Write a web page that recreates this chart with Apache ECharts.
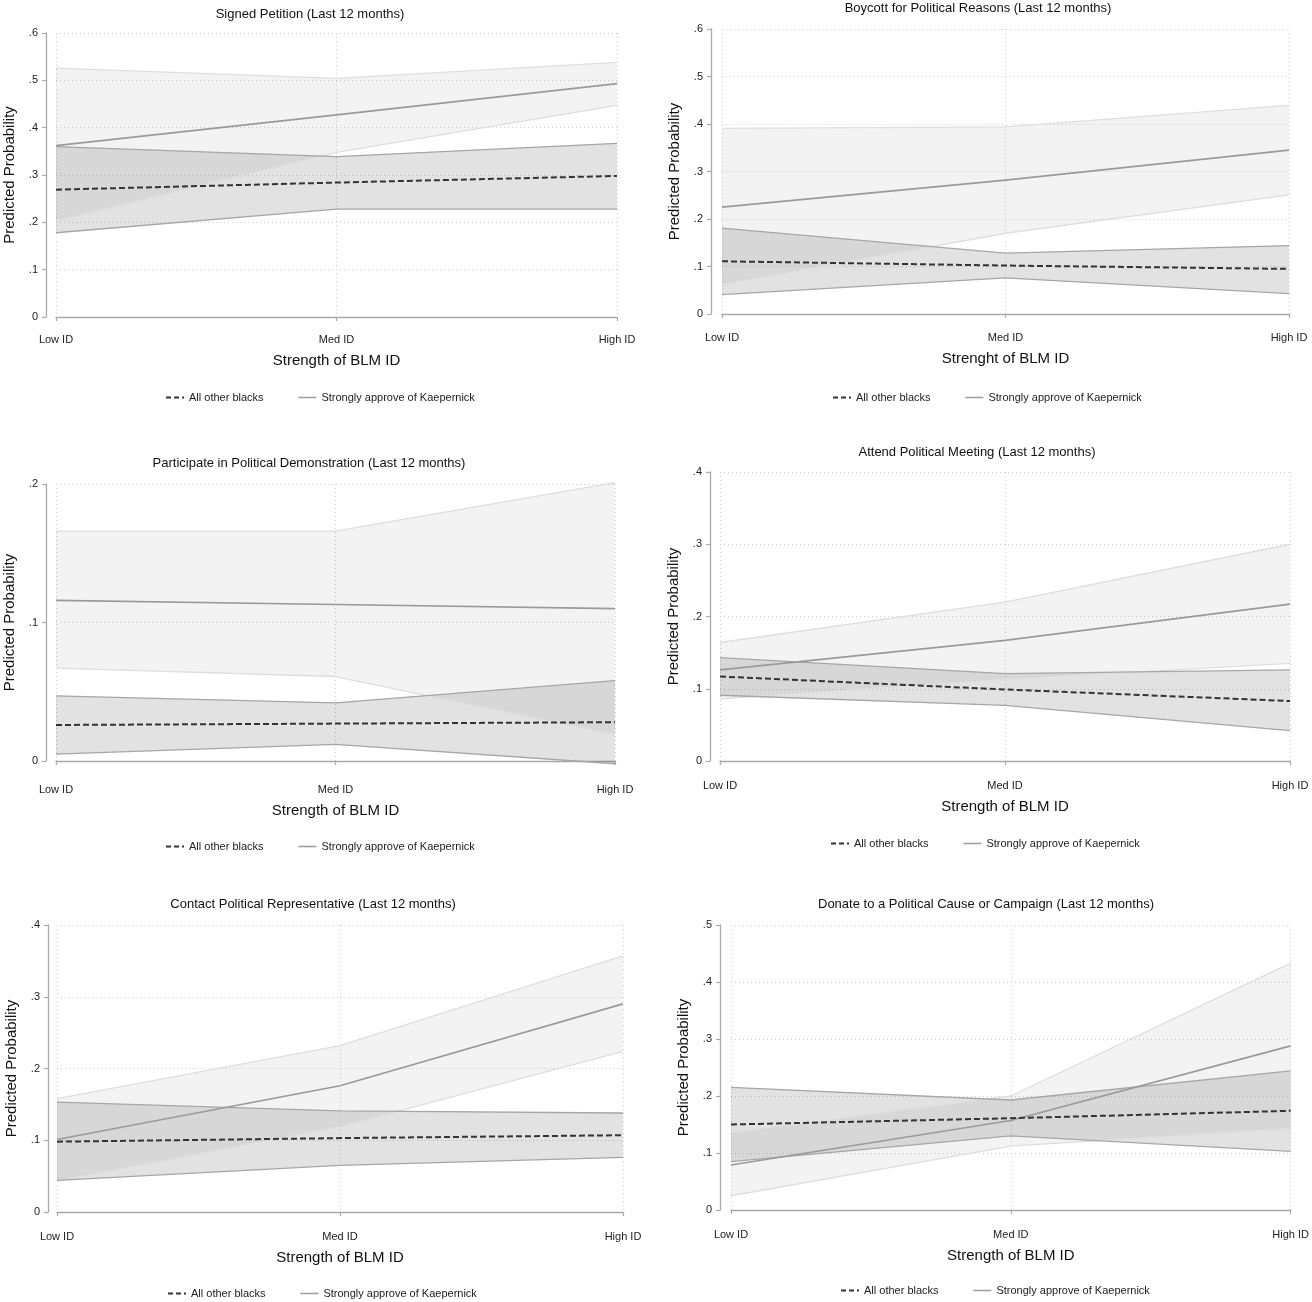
<!DOCTYPE html>
<html>
<head>
<meta charset="utf-8">
<script src="https://cdn.jsdelivr.net/npm/echarts@6/dist/echarts.min.js"></script>
<style>
html,body{margin:0;padding:0;background:#fff;}
#chart{width:1312px;height:1302px;}
</style>
</head>
<body>
<div id="chart"></div>
<script>
// ---------- DATA ----------
const categories = ['Low ID', 'Med ID', 'High ID'];
const legendNames = ['All other blacks', 'Strongly approve of Kaepernick'];
const panelTitles = [
  'Signed Petition (Last 12 months)',
  'Boycott for Political Reasons (Last 12 months)',
  'Participate in Political Demonstration (Last 12 months)',
  'Attend Political Meeting (Last 12 months)',
  'Contact Political Representative (Last 12 months)',
  'Donate to a Political Cause or Campaign (Last 12 months)'
];
const xTitles = ['Strength of BLM ID', 'Strenght of BLM ID', 'Strength of BLM ID',
                 'Strength of BLM ID', 'Strength of BLM ID', 'Strength of BLM ID'];
const yTitle = 'Predicted Probability';
const yMax = [0.6, 0.6, 0.2, 0.4, 0.4, 0.5];

// Signed Petition
const petitionKaep     = [0.362, 0.427, 0.493];
const petitionKaepLo   = [0.203, 0.348, 0.447];
const petitionKaepHi   = [0.526, 0.504, 0.538];
const petitionOther    = [0.269, 0.284, 0.298];
const petitionOtherLo  = [0.178, 0.228, 0.228];
const petitionOtherHi  = [0.360, 0.339, 0.367];
// Boycott
const boycottKaep      = [0.225, 0.282, 0.345];
const boycottKaepLo    = [0.062, 0.170, 0.251];
const boycottKaepHi    = [0.391, 0.394, 0.439];
const boycottOther     = [0.111, 0.102, 0.095];
const boycottOtherLo   = [0.041, 0.076, 0.043];
const boycottOtherHi   = [0.181, 0.128, 0.144];
// Demonstration
const demoKaep         = [0.116, 0.113, 0.110];
const demoKaepLo       = [0.067, 0.061, 0.019];
const demoKaepHi       = [0.166, 0.166, 0.201];
const demoOther        = [0.026, 0.027, 0.028];
const demoOtherLo      = [0.005, 0.012, -0.002];
const demoOtherHi      = [0.047, 0.042, 0.058];
// Meeting
const meetingKaep      = [0.126, 0.167, 0.217];
const meetingKaepLo    = [0.086, 0.113, 0.135];
const meetingKaepHi    = [0.164, 0.220, 0.300];
const meetingOther     = [0.117, 0.099, 0.083];
const meetingOtherLo   = [0.091, 0.077, 0.042];
const meetingOtherHi   = [0.143, 0.121, 0.126];
// Contact representative
const contactKaep      = [0.101, 0.176, 0.290];
const contactKaepLo    = [0.043, 0.119, 0.224];
const contactKaepHi    = [0.158, 0.232, 0.357];
const contactOther     = [0.098, 0.103, 0.107];
const contactOtherLo   = [0.044, 0.065, 0.076];
const contactOtherHi   = [0.153, 0.141, 0.138];
// Donate
const donateKaep       = [0.079, 0.157, 0.288];
const donateKaepLo     = [0.025, 0.112, 0.143];
const donateKaepHi     = [0.136, 0.200, 0.433];
const donateOther      = [0.150, 0.161, 0.174];
const donateOtherLo    = [0.085, 0.130, 0.103];
const donateOtherHi    = [0.215, 0.193, 0.244];

const panelData = [
  [petitionKaep, petitionKaepLo, petitionKaepHi, petitionOther, petitionOtherLo, petitionOtherHi],
  [boycottKaep, boycottKaepLo, boycottKaepHi, boycottOther, boycottOtherLo, boycottOtherHi],
  [demoKaep, demoKaepLo, demoKaepHi, demoOther, demoOtherLo, demoOtherHi],
  [meetingKaep, meetingKaepLo, meetingKaepHi, meetingOther, meetingOtherLo, meetingOtherHi],
  [contactKaep, contactKaepLo, contactKaepHi, contactOther, contactOtherLo, contactOtherHi],
  [donateKaep, donateKaepLo, donateKaepHi, donateOther, donateOtherLo, donateOtherHi]
];

// ---------- LAYOUT ----------
const layout = [
  {left: 56,  top: 33,  width: 561, height: 284, yOff: 10, xOff: 8,  titleX: 310, titleY: 8,   legX: 165, legY: 392},
  {left: 722, top: 29,  width: 567, height: 285, yOff: 11, xOff: 9,  titleX: 978, titleY: 2,   legX: 832, legY: 392},
  {left: 56,  top: 484, width: 559, height: 277, yOff: 10, xOff: 14, titleX: 309, titleY: 457, legX: 165, legY: 841},
  {left: 720, top: 472, width: 570, height: 289, yOff: 10, xOff: 10, titleX: 977, titleY: 446, legX: 830, legY: 838},
  {left: 57,  top: 925, width: 566, height: 287, yOff: 9,  xOff: 10, titleX: 313, titleY: 898, legX: 167, legY: 1288},
  {left: 731, top: 925, width: 564, height: 285, yOff: 11, xOff: 10, titleX: 986, titleY: 898, legX: 840, legY: 1285}
];

const FONT = '"Liberation Sans", Arial, Helvetica, sans-serif';
const axisColor = '#a9a9a9';
const gridLineStyle = {type: [1, 3], color: '#cfcfcf', width: 1};

const grids = [], xAxes = [], yAxes = [], series = [], titles = [], legends = [];

function fmtY(v) {
  if (Math.abs(v) < 1e-9) return '0';
  return v.toFixed(1).replace(/^0/, '');
}

const legendItems = [
  {name: legendNames[0], itemStyle: {opacity: 0}, lineStyle: {color: '#333', width: 2, type: [5, 3]}},
  {name: legendNames[1], itemStyle: {opacity: 0}, lineStyle: {color: '#a0a0a0', width: 1.6, type: 'solid'}}
];

layout.forEach((L, i) => {
  const [kM, kLo, kHi, oM, oLo, oHi] = panelData[i];
  grids.push({left: L.left, top: L.top, width: L.width, height: L.height, containLabel: false});
  xAxes.push({
    gridIndex: i, type: 'category', data: categories, boundaryGap: false, offset: L.xOff,
    axisLine: {lineStyle: {color: axisColor, width: 1.3}},
    axisTick: {show: true, length: 4, interval: 0, lineStyle: {color: axisColor, width: 1.2}},
    axisLabel: {margin: 9, fontSize: 11, color: '#222', fontFamily: FONT, interval: 0},
    splitLine: {show: true, interval: 0, lineStyle: gridLineStyle},
    name: xTitles[i], nameLocation: 'middle', nameGap: 28,
    nameTextStyle: {fontSize: 15, color: '#111', fontFamily: FONT}
  });
  yAxes.push({
    gridIndex: i, type: 'value', min: 0, max: yMax[i], interval: 0.1, offset: L.yOff,
    axisLine: {show: true, lineStyle: {color: axisColor, width: 1.3}},
    axisTick: {show: true, length: 4, lineStyle: {color: axisColor, width: 1.2}},
    axisLabel: {margin: 8, fontSize: 11, color: '#222', fontFamily: FONT, formatter: fmtY},
    splitLine: {show: true, lineStyle: gridLineStyle},
    name: yTitle, nameLocation: 'middle', nameGap: 29,
    nameTextStyle: {fontSize: 15, color: '#111', fontFamily: FONT}
  });
  titles.push({
    text: panelTitles[i], left: L.titleX, top: L.titleY, textAlign: 'center', padding: 0,
    textStyle: {fontSize: 13, fontWeight: 'normal', color: '#111', fontFamily: FONT}
  });
  legends.push({
    data: legendItems, left: L.legX, top: L.legY, padding: 0, itemWidth: 18, itemHeight: 10,
    itemGap: 34, selectedMode: false, itemStyle: {opacity: 0},
    textStyle: {fontSize: 11, color: '#222', fontFamily: FONT}
  });
  const base = {type: 'line', xAxisIndex: i, yAxisIndex: i, symbol: 'none', silent: true,
                animation: false, clip: false, stackStrategy: 'all'};
  // Kaepernick CI band
  series.push(Object.assign({}, base, {
    name: 'kaepLo' + i, stack: 'kb' + i, data: kLo,
    lineStyle: {color: '#dedede', width: 1.3}
  }));
  series.push(Object.assign({}, base, {
    name: 'kaepBand' + i, stack: 'kb' + i, data: kHi.map((v, j) => v - kLo[j]),
    lineStyle: {color: '#dedede', width: 1.3},
    areaStyle: {color: 'rgba(0,0,0,0.065)'}
  }));
  // Others CI band
  series.push(Object.assign({}, base, {
    name: 'otherLo' + i, stack: 'ob' + i, data: oLo,
    lineStyle: {color: '#a6a6a6', width: 1.3}
  }));
  series.push(Object.assign({}, base, {
    name: 'otherBand' + i, stack: 'ob' + i, data: oHi.map((v, j) => v - oLo[j]),
    lineStyle: {color: '#a6a6a6', width: 1.3},
    areaStyle: {color: 'rgba(0,0,0,0.16)'}
  }));
  // mean lines
  series.push(Object.assign({}, base, {
    name: legendNames[1], data: kM, stack: null,
    lineStyle: {color: '#9a9a9a', width: 1.7},
    itemStyle: {color: '#9a9a9a'}
  }));
  series.push(Object.assign({}, base, {
    name: legendNames[0], data: oM, stack: null,
    lineStyle: {color: '#333', width: 2, type: [6, 3]},
    itemStyle: {color: '#333'}
  }));
});

const chart = echarts.init(document.getElementById('chart'), null, {renderer: 'canvas'});
chart.setOption({
  backgroundColor: '#fff',
  animation: false,
  title: titles,
  legend: legends,
  grid: grids,
  xAxis: xAxes,
  yAxis: yAxes,
  series: series
});
</script>
</body>
</html>
